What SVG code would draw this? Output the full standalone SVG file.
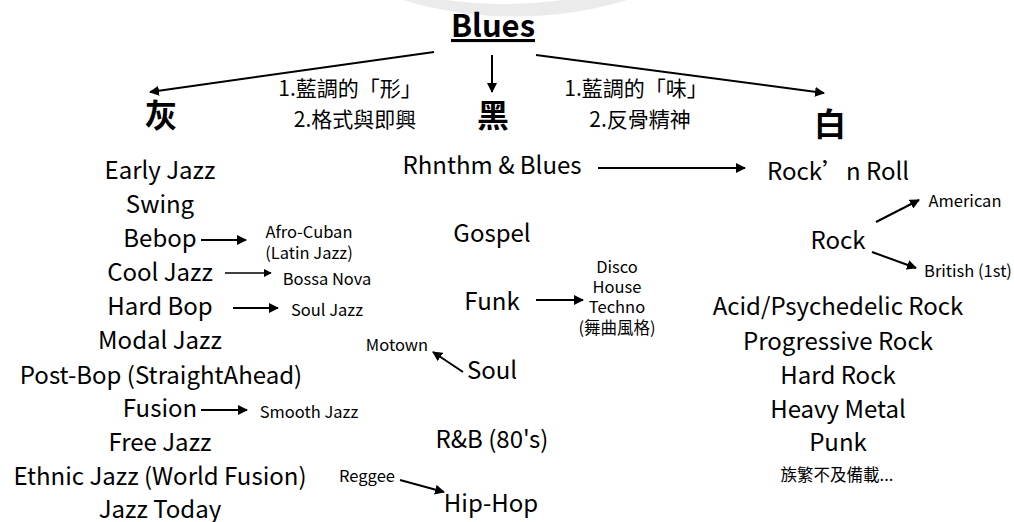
<svg xmlns="http://www.w3.org/2000/svg" width="1014" height="522" viewBox="0 0 1014 522">
<style>
text{font-family:"Noto Sans CJK TC","Noto Sans",sans-serif;fill:#000;text-anchor:middle}
.t{font-size:24px}
.s{font-size:16.5px}
.h{font-size:32px;font-weight:bold}
.c{font-size:21px}
.ln{stroke:#000;stroke-width:2;fill:none}
.sl{stroke:#000;stroke-width:1.6;fill:none}
</style>
<defs>
<marker id="ah" viewBox="0 0 10 10" refX="9" refY="5" markerWidth="5" markerHeight="5" orient="auto" markerUnits="strokeWidth">
<path d="M0,0 L10,5 L0,10 z" fill="#000"/>
</marker>
</defs>
<rect width="1014" height="522" fill="#fff"/>
<g id="watermark">
<path d="M403,0 A386,386 0 0 0 627,0 Z" fill="#ebebeb"/>
<path d="M447,0 A423,423 0 0 0 563,0 Z" fill="#fff"/>
</g>
<g id="connectors">
<line class="ln" x1="434" y1="52" x2="150" y2="92" marker-end="url(#ah)"/>
<line class="ln" x1="492" y1="55" x2="492" y2="92" marker-end="url(#ah)"/>
<line class="ln" x1="536" y1="55" x2="824" y2="93" marker-end="url(#ah)"/>
<line class="ln" x1="201" y1="240" x2="246" y2="240" marker-end="url(#ah)"/>
<line class="sl" x1="225" y1="273" x2="271" y2="273" marker-end="url(#ah)"/>
<line class="ln" x1="233" y1="308" x2="278" y2="308" marker-end="url(#ah)"/>
<line class="ln" x1="201" y1="410" x2="247" y2="410" marker-end="url(#ah)"/>
<line class="ln" x1="598" y1="168" x2="745" y2="168" marker-end="url(#ah)"/>
<line class="ln" x1="536" y1="300" x2="583" y2="300" marker-end="url(#ah)"/>
<line class="ln" x1="463" y1="372" x2="433" y2="352" marker-end="url(#ah)"/>
<line class="ln" x1="400" y1="480" x2="444" y2="492" marker-end="url(#ah)"/>
<line class="ln" x1="876" y1="222" x2="919" y2="200" marker-end="url(#ah)"/>
<line class="ln" x1="872" y1="252" x2="916" y2="268" marker-end="url(#ah)"/>
</g>
<g id="blues"><text x="493" y="37" style="font-size:31px;font-weight:bold" text-decoration="underline">Blues</text></g>
<g id="gray"><text x="161" y="127" class="h">灰</text></g>
<g id="black"><text x="493" y="127" class="h">黑</text></g>
<g id="white"><text x="830" y="136" class="h">白</text></g>
<g id="label-gray"><text x="350" y="96" class="c">1.藍調的「形」</text><text x="355" y="127" class="c">2.格式與即興</text></g>
<g id="label-white"><text x="636" y="96" class="c">1.藍調的「味」</text><text x="640" y="127" class="c">2.反骨精神</text></g>
<g id="jazz">
<text x="160" y="179" class="t">Early Jazz</text>
<text x="160" y="213" class="t">Swing</text>
<text x="160" y="247" class="t">Bebop</text>
<text x="160" y="281" class="t">Cool Jazz</text>
<text x="160" y="315" class="t">Hard Bop</text>
<text x="160" y="349" class="t">Modal Jazz</text>
<text x="161" y="384" class="t">Post-Bop (StraightAhead)</text>
<text x="160" y="417" class="t">Fusion</text>
<text x="160" y="451" class="t">Free Jazz</text>
<text x="160" y="485" class="t">Ethnic Jazz (World Fusion)</text>
<text x="160" y="518" class="t">Jazz Today</text>
</g>
<g id="jazz-sub">
<text x="309" y="238" class="s">Afro-Cuban</text>
<text x="309" y="259" class="s">(Latin Jazz)</text>
<text x="327" y="285" class="s">Bossa Nova</text>
<text x="327" y="316" class="s">Soul Jazz</text>
<text x="309" y="418" class="s">Smooth Jazz</text>
</g>
<g id="black-col">
<text x="492" y="174" class="t">Rhnthm &amp; Blues</text>
<text x="492" y="242" class="t">Gospel</text>
<text x="492" y="310" class="t">Funk</text>
<text x="492" y="379" class="t">Soul</text>
<text x="492" y="448" class="t">R&amp;B (80's)</text>
<text x="491" y="512" class="t">Hip-Hop</text>
</g>
<g id="black-sub">
<text x="617" y="273" class="s">Disco</text>
<text x="617" y="293" class="s">House</text>
<text x="617" y="313" class="s">Techno</text>
<text x="617" y="334" class="s">(舞曲風格)</text>
<text x="397" y="351" class="s">Motown</text>
<text x="367" y="482" class="s">Reggee</text>
</g>
<g id="white-col">
<text x="838" y="180" class="t">Rock’n Roll</text>
<text x="838" y="249" class="t">Rock</text>
<text x="838" y="315" class="t">Acid/Psychedelic Rock</text>
<text x="838" y="350" class="t">Progressive Rock</text>
<text x="838" y="384" class="t">Hard Rock</text>
<text x="838" y="418" class="t">Heavy Metal</text>
<text x="838" y="451" class="t">Punk</text>
<text x="837" y="481" class="s">族繁不及備載...</text>
</g>
<g id="white-sub">
<text x="965" y="207" class="s">American</text>
<text x="968" y="277" class="s">British (1st)</text>
</g>
</svg>
